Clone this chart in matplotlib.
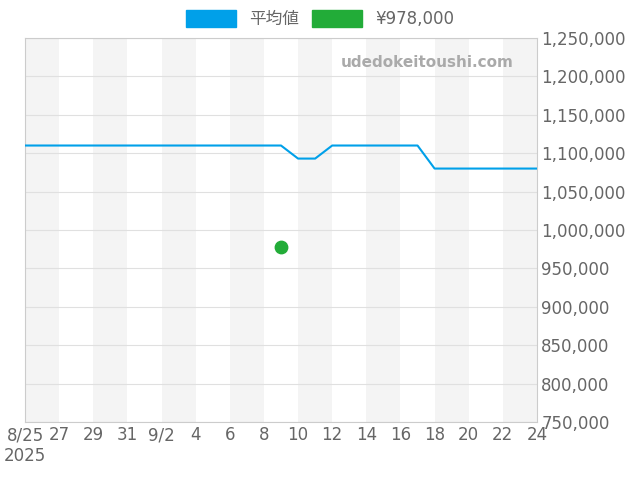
import matplotlib
matplotlib.use("Agg")
import matplotlib.pyplot as plt
import numpy as np
import datetime as dt
from matplotlib.ticker import FuncFormatter
from matplotlib.patches import Patch

plt.rcParams['font.family'] = ['DejaVu Sans', 'Noto Sans CJK JP']

start = dt.date(2025, 8, 25)
dates = [start + dt.timedelta(days=i) for i in range(31)]
avg_values = [1110000]*16 + [1093000, 1093000] + [1110000]*6 + [1080000]*7
point_date = [dt.date(2025, 9, 9)]
point_value = [978000]

fig = plt.figure(figsize=(6.4, 4.8), dpi=100)
ax = fig.add_axes([25/640, 1-422/480, 512/640, 384/480])

for i in range(0, 30, 4):
    d0 = start + dt.timedelta(days=i)
    ax.axvspan(d0, d0 + dt.timedelta(days=2), color='#f4f4f4', zorder=0, lw=0)

ax.plot(dates, avg_values, color='#00a0e9', lw=1.5, zorder=3)
ax.scatter(point_date, point_value, color='#22ac38', s=80, zorder=4)

ax.set_xlim(dates[0], dates[-1])
ax.set_ylim(750000, 1250000)
ax.set_yticks(np.arange(750000, 1250001, 50000))
ax.yaxis.tick_right()
ax.yaxis.set_major_formatter(FuncFormatter(lambda v, p: f"{int(v):,}"))
ticks = [start + dt.timedelta(days=i) for i in range(0, 31, 2)]
ax.set_xticks(ticks)
labels = []
for t in ticks:
    if t == start:
        labels.append("8/25\n2025")
    elif t.day == 2 and t.month == 9:
        labels.append("9/2")
    else:
        labels.append(str(t.day))
ax.set_xticklabels(labels)
ax.tick_params(colors='#666666', labelsize=12, length=0, pad=3)
ax.grid(axis='y', color='#e0e0e0', lw=0.8)
ax.set_axisbelow(True)
for s in ax.spines.values():
    s.set_color('#cccccc')

ax.text(0.955, 0.935, 'udedokeitoushi.com', transform=ax.transAxes, ha='right', va='center',
        fontsize=11, fontweight='bold', color='#aaaaaa')

handles = [Patch(color='#00a0e9', label='平均値'), Patch(color='#22ac38', label='¥978,000')]
fig.legend(handles=handles, loc='upper center', bbox_to_anchor=(0.5, 1.01), ncol=2, frameon=False,
           fontsize=12, handlelength=3, handleheight=1.2, labelcolor='#666666', columnspacing=0.8)

fig.savefig('out.png', dpi=100)
